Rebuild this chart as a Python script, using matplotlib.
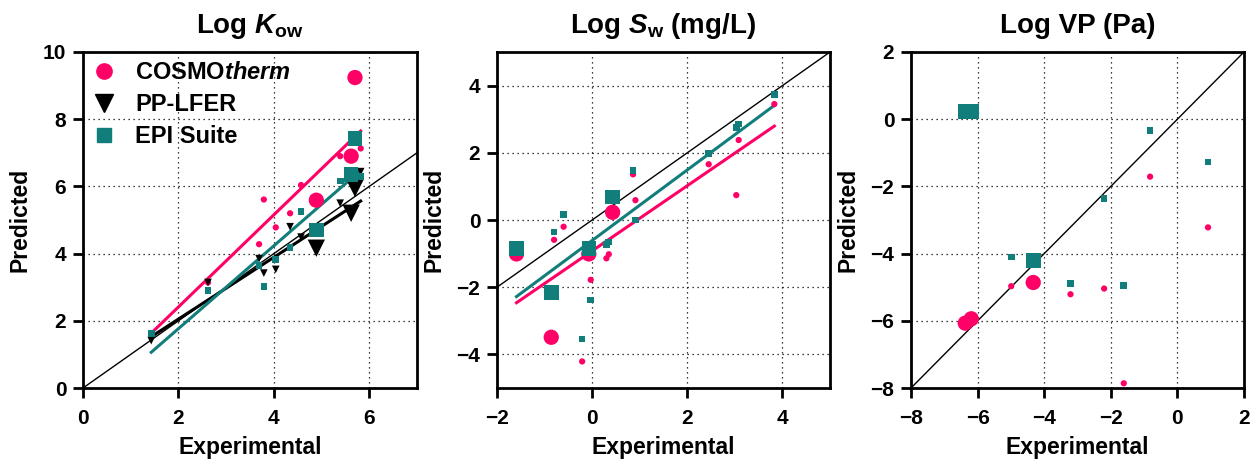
import numpy as np
import matplotlib
matplotlib.use('Agg')
import matplotlib.pyplot as plt
from matplotlib.lines import Line2D

plt.rcParams['font.family'] = ['Liberation Sans', 'DejaVu Sans']
plt.rcParams['font.weight'] = 'bold'
plt.rcParams['mathtext.fontset'] = 'custom'
plt.rcParams['mathtext.rm'] = 'Liberation Sans:bold'
plt.rcParams['mathtext.it'] = 'Liberation Sans:bold:italic'
plt.rcParams['mathtext.bf'] = 'Liberation Sans:bold'

PINK = '#ff0066'
TEAL = '#127e7b'

# ---- Log Kow ----
kow_exp = [1.43, 2.62, 3.69, 3.79, 4.04, 4.34, 4.57, 4.89, 5.39, 5.62, 5.70, 5.82]
kow_big = [0, 0, 0, 0, 0, 0, 0, 1, 0, 1, 1, 0]
kow_cosmo = [1.63, 3.14, 4.28, 5.61, 4.78, 5.20, 6.04, 5.59, 6.90, 6.90, 9.24, 7.13]
kow_pplfer = [1.41, 3.14, 3.85, 3.42, 3.53, 4.80, 4.49, 4.16, 5.50, 5.20, 5.94, 6.44]
kow_epi = [1.63, 2.90, 3.65, 3.02, 3.83, 4.19, 5.25, 4.70, 6.16, 6.36, 7.43, 6.29]
kow_fit = {'cosmo': (1.371, -0.33), 'pplfer': (0.92, 0.21), 'epi': (1.233, -0.70)}

# ---- Log Sw ----
sw_exp = [-1.59, -0.86, -0.80, -0.60, -0.07, -0.03, -0.21, 0.30, 0.35, 0.43,
          0.86, 0.91, 2.45, 3.03, 3.08, 3.83]
sw_big = [1, 1, 0, 0, 1, 0, 0, 0, 0, 1, 0, 0, 0, 0, 0, 0]
sw_cosmo = [-1.01, -3.49, -0.59, -0.20, -1.01, -1.78, -4.21, -1.14, -1.02, 0.23,
            1.36, 0.59, 1.66, 0.74, 2.38, 3.45]
sw_epi = [-0.84, -2.16, -0.36, 0.16, -0.85, -2.38, -3.54, -0.73, -0.65, 0.69,
          1.47, 0.00, 1.98, 2.76, 2.86, 3.73]
sw_fit = {'cosmo': (0.97, -0.92), 'epi': (1.05, -0.61)}

# ---- Log VP ----
vp_exp = [-6.37, -6.19, -4.99, -4.33, -3.21, -2.20, -1.61, -0.82, 0.92]
vp_big = [1, 1, 0, 1, 0, 0, 0, 0, 0]
vp_cosmo = [-6.07, -5.94, -4.97, -4.86, -5.21, -5.04, -7.86, -1.71, -3.22]
vp_epi = [0.23, 0.23, -4.10, -4.20, -4.88, -2.36, -4.95, -0.34, -1.27]

W, H = 1253, 461
fig = plt.figure(figsize=(W / 100, H / 100), dpi=100)
boxes = [(83, 417), (497, 830), (911, 1244)]
axes = [fig.add_axes([l / W, (H - 388) / H, (r - l) / W, 336 / H]) for l, r in boxes]


def sizes(flags, small, big):
    return [big ** 2 if f else small ** 2 for f in flags]


def style(ax, xlim, ylim, xt, yt, title):
    ax.set_xlim(xlim)
    ax.set_ylim(ylim)
    ax.set_xticks(xt)
    ax.set_yticks(yt)
    ax.plot(xlim, xlim, color='black', lw=1, zorder=1)
    ax.grid(True, color='black', linestyle=(0, (1, 3)), lw=0.9)
    ax.set_axisbelow(True)
    for s in ax.spines.values():
        s.set_linewidth(2)
    ax.tick_params(direction='out', length=7, width=2, labelsize=15)
    ax.tick_params(axis='x', pad=8)
    ax.tick_params(axis='y', pad=5)
    ax.set_title(title, fontsize=20, fontweight='bold', pad=14)
    ax.set_xlabel('Experimental', fontsize=16.5, fontweight='bold', labelpad=6)
    ax.set_ylabel('Predicted', fontsize=16.5, fontweight='bold', labelpad=8)


def fitline(ax, x, fit, color):
    xs = np.array([min(x), max(x)])
    ax.plot(xs, fit[0] * xs + fit[1], color=color, lw=2.2, zorder=2)


# panel 1
ax = axes[0]
style(ax, (0, 7), (0, 10), [0, 2, 4, 6], [0, 2, 4, 6, 8, 10], r'Log $K_{\rm ow}$')
fitline(ax, kow_exp, kow_fit['cosmo'], PINK)
fitline(ax, kow_exp, kow_fit['pplfer'], 'black')
fitline(ax, kow_exp, kow_fit['epi'], TEAL)
ax.scatter(kow_exp, kow_cosmo, s=sizes(kow_big, 4.5, 11), marker='o', color=PINK, lw=0, zorder=3)
ax.scatter(kow_exp, kow_pplfer, s=sizes(kow_big, 5.5, 12.5), marker='v', color='black', lw=0, zorder=4)
ax.scatter(kow_exp, kow_epi, s=sizes(kow_big, 4.8, 10.5), marker='s', color=TEAL, lw=0, zorder=5)
handles = [Line2D([], [], ls='', marker='o', ms=11, color=PINK),
           Line2D([], [], ls='', marker='v', ms=12.5, color='black'),
           Line2D([], [], ls='', marker='s', ms=10.5, color=TEAL)]
ax.legend(handles, [r'COSMO$therm$', 'PP-LFER', 'EPI Suite'], loc='upper left',
          frameon=False, fontsize=17, handlelength=1.0, handletextpad=0.8,
          borderaxespad=0.0, labelspacing=0.38, borderpad=0.4)

# panel 2
ax = axes[1]
style(ax, (-2, 5), (-5, 5), [-2, 0, 2, 4], [-4, -2, 0, 2, 4], r'Log $S_{\rm w}$ (mg/L)')
fitline(ax, sw_exp, sw_fit['cosmo'], PINK)
fitline(ax, sw_exp, sw_fit['epi'], TEAL)
ax.scatter(sw_exp, sw_cosmo, s=sizes(sw_big, 4.5, 11), marker='o', color=PINK, lw=0, zorder=3)
ax.scatter(sw_exp, sw_epi, s=sizes(sw_big, 4.8, 10.5), marker='s', color=TEAL, lw=0, zorder=5)

# panel 3
ax = axes[2]
style(ax, (-8, 2), (-8, 2), [-8, -6, -4, -2, 0, 2], [-8, -6, -4, -2, 0, 2], 'Log VP (Pa)')
ax.scatter(vp_exp, vp_cosmo, s=sizes(vp_big, 4.5, 11), marker='o', color=PINK, lw=0, zorder=3)
ax.scatter(vp_exp, vp_epi, s=sizes(vp_big, 4.8, 10.5), marker='s', color=TEAL, lw=0, zorder=5)

fig.savefig('out.png', dpi=100)
